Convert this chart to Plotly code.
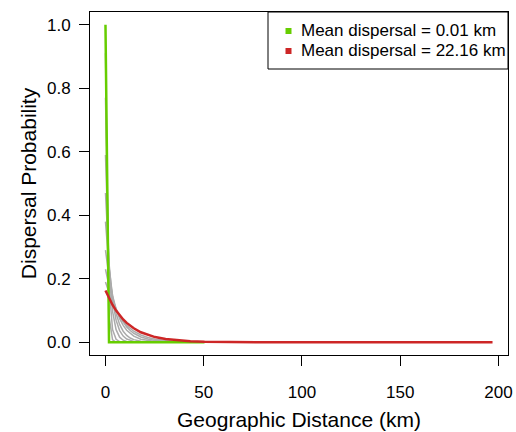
import plotly.graph_objects as go

# distance grid (km) used by the kernels
dist_short = [0, 1.8, 3.6, 5.4, 7.2, 9.0, 10.8, 12.6, 14.4, 18.0, 21.6, 25.2, 30.6, 36.0, 43.2, 50.4]
dist_long = dist_short + [60, 80, 100, 150, 197]

# intermediate dispersal kernels (grey)
grey_kernels = [
    [0.91, 0.0825, 0.0075, 0.0007, 0, 0, 0, 0, 0, 0, 0, 0, 0, 0, 0, 0],
    [0.77, 0.176, 0.0403, 0.0092, 0.0021, 0.0005, 0, 0, 0, 0, 0, 0, 0, 0, 0, 0],
    [0.59, 0.240, 0.0975, 0.0397, 0.0161, 0.0066, 0.0027, 0.0011, 0.0004, 0, 0, 0, 0, 0, 0, 0],
    [0.47, 0.249, 0.132, 0.0697, 0.0369, 0.0195, 0.0103, 0.0055, 0.0029, 0.0008, 0.0002, 0, 0, 0, 0, 0],
    [0.38, 0.236, 0.146, 0.0908, 0.0563, 0.0349, 0.0217, 0.0134, 0.0083, 0.0032, 0.0012, 0.0005, 0.0001, 0, 0, 0],
    [0.29, 0.206, 0.147, 0.1047, 0.0746, 0.0531, 0.0378, 0.0269, 0.0192, 0.0097, 0.0049, 0.0025, 0.0009, 0.0003, 0, 0],
    [0.23, 0.177, 0.136, 0.105, 0.081, 0.0624, 0.0481, 0.037, 0.0285, 0.0169, 0.0101, 0.006, 0.0027, 0.0012, 0.0004, 0.0001],
    [0.19, 0.154, 0.124, 0.1007, 0.0814, 0.0659, 0.0533, 0.0431, 0.0349, 0.0229, 0.015, 0.0098, 0.0052, 0.0028, 0.0012, 0.0005],
]

# smallest mean dispersal (green)
green_vals = [1.0, 0, 0, 0, 0, 0, 0, 0, 0, 0, 0, 0, 0, 0, 0, 0]
# largest mean dispersal (red)
red_vals = [0.163, 0.1384, 0.1175, 0.0997, 0.0847, 0.0719, 0.0611, 0.0519, 0.044, 0.0317,
            0.0229, 0.0165, 0.0101, 0.0062, 0.0032, 0.0017, 0.0007, 0.0001, 0, 0, 0]

legend_labels = ["Mean dispersal = 0.01 km", "Mean dispersal = 22.16 km"]
x_ticks = [0, 50, 100, 150, 200]
y_ticks = [0.0, 0.2, 0.4, 0.6, 0.8, 1.0]

GREEN = "#66CD00"
RED = "#CD2626"
GREY = "#ababab"
FONT = "Liberation Sans, Arial, sans-serif"

W, H = 516, 432
ML, MR, MT, MB = 90, 8, 12, 77
PW, PH = W - ML - MR, H - MT - MB


def px_x(p):
    return (p - ML) / PW


def px_y(p):
    return (H - MB - p) / PH


fig = go.Figure()
for k in grey_kernels:
    fig.add_trace(go.Scatter(x=dist_short, y=k, mode="lines",
                             line=dict(color=GREY, width=1.5), showlegend=False, hoverinfo="skip"))
fig.add_trace(go.Scatter(x=dist_short, y=green_vals, mode="lines",
                         line=dict(color=GREEN, width=2.5), showlegend=False))
fig.add_trace(go.Scatter(x=dist_long, y=red_vals, mode="lines",
                         line=dict(color=RED, width=2.5), showlegend=False))

# R-style legend box drawn in paper coordinates
shapes = [dict(type="rect", xref="paper", yref="paper",
               x0=px_x(268), x1=1, y0=px_y(69), y1=1,
               line=dict(color="black", width=1), fillcolor="white", layer="above")]
annotations = []
for i, (lab, col) in enumerate(zip(legend_labels, [GREEN, RED])):
    cy = 31 + 20 * i
    shapes.append(dict(type="rect", xref="paper", yref="paper",
                       x0=px_x(285.5), x1=px_x(291.5), y0=px_y(cy + 3), y1=px_y(cy - 3),
                       line=dict(width=0), fillcolor=col, layer="above"))
    annotations.append(dict(text=lab, xref="paper", yref="paper", x=px_x(299), y=px_y(cy),
                            xanchor="left", yanchor="middle", showarrow=False,
                            font=dict(size=17, family=FONT, color="black")))

fig.update_layout(
    width=W, height=H,
    margin=dict(l=ML, r=MR, t=MT, b=MB),
    paper_bgcolor="white", plot_bgcolor="white",
    font=dict(family=FONT, size=17, color="black"),
    showlegend=False,
    shapes=shapes, annotations=annotations,
    xaxis=dict(range=[-7.88, 204.88], tickvals=x_ticks, ticktext=[str(v) for v in x_ticks],
               showgrid=False, zeroline=False, showline=True, mirror=True, automargin=False,
               linecolor="black", linewidth=1, ticks="outside", ticklen=10,
               tickcolor="black", tickfont=dict(size=17), ticklabelstandoff=12,
               title=dict(text="Geographic Distance (km)", font=dict(size=21), standoff=10)),
    yaxis=dict(range=[-0.04, 1.04], tickvals=y_ticks, ticktext=[f"{v:.1f}" for v in y_ticks],
               showgrid=False, zeroline=False, showline=True, mirror=True, automargin=False,
               linecolor="black", linewidth=1, ticks="outside", ticklen=10,
               tickcolor="black", tickfont=dict(size=17), ticklabelstandoff=5,
               title=dict(text="Dispersal Probability", font=dict(size=21), standoff=4)),
)

fig.write_html("out.html", config={"displayModeBar": False},
               post_script="document.body.style.margin='0';document.body.style.padding='0';")
